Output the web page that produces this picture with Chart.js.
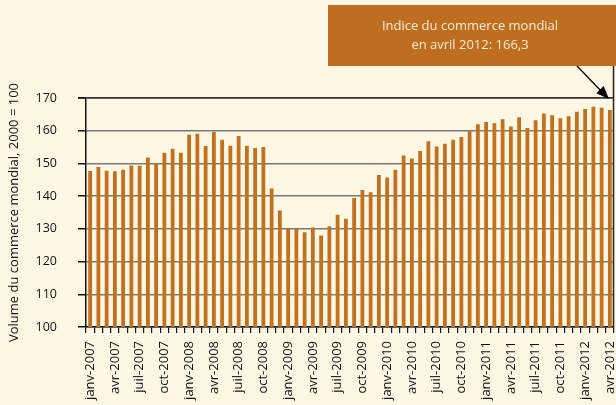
<!DOCTYPE html>
<html lang="fr">
<head>
    <meta charset="UTF-8">
    <title>Indice du commerce mondial</title>
    <script src="https://cdn.jsdelivr.net/npm/chart.js"></script>
    <style>
        html, body { margin: 0; padding: 0; background: #FEF7E3; }
        #wrap { width: 616px; height: 405px; position: relative; }
    </style>
</head>
<body>
    <div id="wrap"><canvas id="tradeChart" width="616" height="405"></canvas></div>

    <script>
        // Monthly data, janv-2007 .. avr-2012 (index 2000 = 100)
        const monthNames = ['janv', 'févr', 'mars', 'avr', 'mai', 'juin', 'juil', 'août', 'sept', 'oct', 'nov', 'déc'];
        const years = [2007, 2008, 2009, 2010, 2011, 2012];

        const values2007 = [147.7, 148.9, 147.8, 147.6, 148.1, 149.4, 149.3, 151.8, 149.9, 153.3, 154.5, 153.3];
        const values2008 = [158.8, 159.1, 155.3, 159.6, 157.2, 155.4, 158.4, 155.4, 154.7, 155.0, 142.3, 135.6];
        const values2009 = [130.0, 130.0, 129.0, 130.4, 128.0, 130.8, 134.3, 133.1, 139.4, 141.9, 141.2, 146.5];
        const values2010 = [145.7, 148.1, 152.4, 151.5, 153.8, 156.8, 155.2, 156.0, 157.2, 158.1, 159.8, 162.0];
        const values2011 = [162.7, 162.3, 163.5, 161.3, 164.1, 160.8, 163.2, 165.3, 164.7, 163.8, 164.4, 165.8];
        const values2012 = [166.6, 167.3, 167.0, 166.3];

        const yTicks = [100, 110, 120, 130, 140, 150, 160, 170];

        const values = [].concat(values2007, values2008, values2009, values2010, values2011, values2012);
        const categories = [];
        years.forEach(y => monthNames.forEach(m => {
            if (categories.length < values.length) categories.push(m + '-' + y);
        }));

        const FONT = "'Open Sans', sans-serif";
        const ORANGE = '#C2711F';

        // Callout box + arrow at top right
        const calloutPlugin = {
            id: 'callout',
            afterDraw(chart) {
                const ctx = chart.ctx;
                const area = chart.chartArea;
                ctx.save();
                // right border line
                ctx.strokeStyle = '#222';
                ctx.lineWidth = 1.5;
                ctx.beginPath();
                ctx.moveTo(613.5, 65);
                ctx.lineTo(613.5, area.bottom);
                ctx.stroke();

                // box
                ctx.fillStyle = '#BF6E1F';
                ctx.fillRect(328, 5, 288, 61);
                ctx.fillStyle = '#F8EBD8';
                ctx.font = '13px ' + FONT;
                ctx.textAlign = 'center';
                ctx.textBaseline = 'middle';
                ctx.fillText('Indice du commerce mondial', 470, 26);
                ctx.fillText('en avril 2012: 166,3', 470, 45);

                // arrow
                const x1 = 577, y1 = 66, x2 = 609, y2 = 99;
                ctx.strokeStyle = '#000';
                ctx.lineWidth = 1.3;
                ctx.beginPath();
                ctx.moveTo(x1, y1);
                ctx.lineTo(x2 - 6, y2 - 6);
                ctx.stroke();
                const ang = Math.atan2(y2 - y1, x2 - x1);
                ctx.fillStyle = '#000';
                ctx.beginPath();
                ctx.moveTo(x2, y2);
                ctx.lineTo(x2 - 14 * Math.cos(ang - 0.38), y2 - 14 * Math.sin(ang - 0.38));
                ctx.lineTo(x2 - 14 * Math.cos(ang + 0.38), y2 - 14 * Math.sin(ang + 0.38));
                ctx.closePath();
                ctx.fill();
                ctx.restore();
            }
        };

        new Chart(document.getElementById('tradeChart'), {
            type: 'bar',
            data: {
                labels: categories,
                datasets: [{
                    data: values,
                    backgroundColor: ORANGE,
                    borderWidth: 0,
                    barPercentage: 0.46,
                    categoryPercentage: 1.0
                }]
            },
            options: {
                responsive: false,
                animation: false,
                layout: { padding: { top: 98, right: 2, left: 0, bottom: 0 } },
                plugins: {
                    legend: { display: false },
                    tooltip: { enabled: false }
                },
                scales: {
                    x: {
                        offset: true,
                        afterFit(scale) {
                            scale.height = 78;
                            scale.paddingLeft = 0;
                            scale.paddingRight = 0;
                        },
                        border: { color: '#111', width: 1.5 },
                        grid: {
                            offset: true,
                            drawOnChartArea: false,
                            drawTicks: true,
                            tickLength: 6,
                            color: '#111',
                            lineWidth: 1.2
                        },
                        ticks: {
                            autoSkip: false,
                            maxRotation: 90,
                            minRotation: 90,
                            padding: 8,
                            color: '#111',
                            font: { family: FONT, size: 13 },
                            callback: (v, i) => (i % 3 === 0 ? categories[i] : '')
                        }
                    },
                    y: {
                        min: 100,
                        max: 170,
                        afterFit(scale) {
                            scale.width = 86;
                            scale.paddingTop = 0;
                            scale.paddingBottom = 0;
                        },
                        afterBuildTicks(scale) { scale.ticks = yTicks.map(v => ({ value: v })); },
                        border: { color: '#111', width: 1.5 },
                        grid: {
                            color: ctx => (ctx.tick && ctx.tick.value === 170 ? '#333' : '#7a7a7a'),
                            lineWidth: ctx => (ctx.tick && ctx.tick.value === 170 ? 1.8 : 1.5),
                            tickColor: '#111',
                            tickLength: 8
                        },
                        ticks: {
                            padding: 21,
                            color: '#111',
                            font: { family: FONT, size: 12.5 }
                        },
                        title: {
                            display: true,
                            text: 'Volume du commerce mondial, 2000 = 100',
                            color: '#111',
                            font: { family: FONT, size: 13 },
                            padding: { top: 6, bottom: 0 }
                        }
                    }
                }
            },
            plugins: [calloutPlugin]
        });
    </script>
</body>
</html>
